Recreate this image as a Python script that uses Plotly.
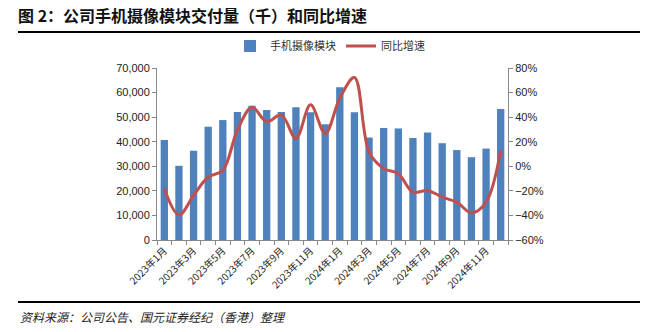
import plotly.graph_objects as go
from plotly.subplots import make_subplots

months = [f"2023年{m}月" for m in range(1, 13)] + [f"2024年{m}月" for m in range(1, 13)]
volume = [40700, 30200, 36300, 46100, 48800, 52100, 54600, 52900, 52100, 54000, 52000, 47100,
          62200, 52000, 41700, 45600, 45400, 41500, 43800, 39400, 36600, 33700, 37200, 53300]
yoy = [-18.3, -39.6, -23.7, -8.7, -3.3, 29.5, 48.0, 36.3, 41.8, 22.7, 50.0, 26.7,
       55.4, 72.3, 11.7, -1.9, -6.0, -21.0, -19.7, -25.1, -29.2, -37.9, -29.2, 13.1]
tick_text = [m if i % 2 == 0 else "" for i, m in enumerate(months)]

W, H = 659, 332
L, R, T, B = 157, 508, 68, 240
pw, ph = R - L, B - T

def px(x):
    return (x - L) / pw

def py(y):
    return (B - y) / ph

cjk = "Noto Sans CJK SC"
num = "Liberation Sans, Arial"

fig = make_subplots(specs=[[{"secondary_y": True}]])
fig.add_trace(go.Bar(x=months, y=volume, name="手机摄像模块", marker_color="#4F81BD",
                     marker_line_width=0), secondary_y=False)
fig.add_trace(go.Scatter(x=months, y=yoy, name="同比增速", mode="lines",
                         line=dict(color="#C0504D", width=3, shape="spline", smoothing=1.0)),
              secondary_y=True)

fig.update_layout(
    width=W, height=H,
    margin=dict(l=L, r=W - R, t=T, b=H - B, pad=0),
    paper_bgcolor="white", plot_bgcolor="white",
    bargap=0.5,
    showlegend=True,
    legend=dict(orientation="h", x=px(330), xanchor="center", y=py(46), yanchor="middle",
                font=dict(family=cjk, size=11, color="#333"), itemwidth=30,
                bgcolor="rgba(0,0,0,0)"),
    title=dict(text="<b>图 2：公司手机摄像模块交付量（千）和同比增速</b>",
               x=18 / W, xanchor="left", xref="container",
               y=1 - 16 / H, yanchor="middle", yref="container",
               font=dict(family=cjk, size=16, color="#111")),
)
fig.update_layout(xaxis=dict(domain=[0, 1]))

fig.update_xaxes(type="category", tickmode="array", tickvals=months, ticktext=tick_text,
                 tickangle=-45, tickson="boundaries", ticks="outside", ticklen=4,
                 tickcolor="#888", showline=True, linecolor="#888", linewidth=1,
                 showgrid=False, tickfont=dict(family=cjk, size=10, color="#222"))
fig.update_yaxes(range=[0, 70000], dtick=10000, tickformat=",", showgrid=False,
                 showline=True, linecolor="#888", ticks="outside", ticklen=4, tickcolor="#888",
                 tickfont=dict(family=num, size=11, color="#222"), zeroline=False,
                 secondary_y=False)
fig.update_yaxes(range=[-60, 80], dtick=20, ticksuffix="%", showgrid=False,
                 showline=True, linecolor="#888", ticks="outside", ticklen=4, tickcolor="#888",
                 tickfont=dict(family=num, size=11, color="#222"), zeroline=False,
                 secondary_y=True)

fig.add_shape(type="line", xref="paper", yref="paper", x0=px(18), x1=px(640),
              y0=py(32), y1=py(32), line=dict(color="black", width=2))
fig.add_shape(type="line", xref="paper", yref="paper", x0=px(18), x1=px(640),
              y0=py(302), y1=py(302), line=dict(color="black", width=2))
fig.add_annotation(text="<i>资料来源：公司公告、国元证券经纪（香港）整理</i>", xref="paper", yref="paper",
                   x=px(18), xanchor="left", y=py(316), yanchor="middle", showarrow=False,
                   font=dict(family=cjk, size=12, color="#222"))

fig.write_html("out.html")
